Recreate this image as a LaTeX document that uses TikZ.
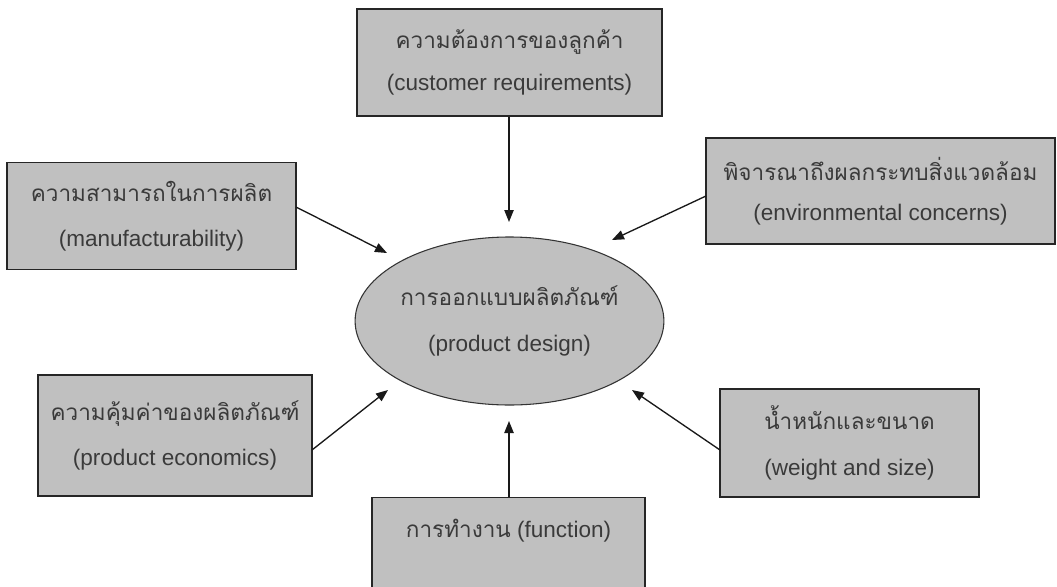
\documentclass[tikz,border=0pt]{standalone}
\usepackage{fontspec}
\setmainfont{Liberation Sans}
\newfontfamily\thai[Script=Thai]{Loma}
\usetikzlibrary{arrows.meta,shapes.geometric}
\definecolor{boxfill}{HTML}{C0C0C0}
\definecolor{txt}{HTML}{3A3A3A}
\tikzset{
  box/.style={draw=black!85, line width=1.1pt, fill=boxfill, text=txt, align=center, inner sep=0pt,
    font=\fontsize{16.9}{20}\selectfont},
  ell/.style={ellipse, draw=black!80, line width=0.8pt, fill=boxfill, text=txt, align=center, inner sep=0pt,
    font=\fontsize{16.9}{20}\selectfont},
  arr/.style={draw=black!90, line width=1pt, -{Triangle[length=9pt,width=7pt]}}
}
\begin{document}
\begin{tikzpicture}[x=0.75pt,y=-0.75pt]
\useasboundingbox (0,0) rectangle (1057,586);
\clip (0,0) rectangle (1057,586);
\fill[white] (0,0) rectangle (1057,586);
\node[ell, minimum width=228.75pt, minimum height=126pt] (pd) at (509.5,321)
  {{\thai การออกแบบผลิตภัณฑ์}\\[15pt](product design)};
\node[box, minimum width=228.75pt, minimum height=80.25pt] (cr) at (509.5,62.5)
  {{\thai ความต้องการของลูกค้า}\\[12pt](customer requirements)};
\node[box, minimum width=216.75pt, minimum height=80.25pt] (mf) at (151.5,216)
  {{\thai ความสามารถในการผลิต}\\[14pt](manufacturability)};
\node[box, minimum width=261.75pt, minimum height=79.5pt] (ec) at (880.5,191)
  {{\thai พิจารณาถึงผลกระทบสิ่งแวดล้อม}\\[10pt](environmental concerns)};
\node[box, minimum width=205.5pt, minimum height=90.75pt] (pe) at (175,435.5)
  {{\thai ความคุ้มค่าของผลิตภัณฑ์}\\[14pt](product economics)};
\node[box, minimum width=194.25pt, minimum height=81pt] (ws) at (849.5,443)
  {{\thai น้ำหนักและขนาด}\\[14pt](weight and size)};
\node[box, minimum width=204.75pt, minimum height=82.5pt, anchor=north, text depth=37pt] (fn) at (508.5,497)
  {{\thai การทำงาน} (function)};
\coordinate (tcr) at (509,222);
\coordinate (tmf) at (387,253);
\coordinate (tec) at (612,240);
\coordinate (tpe) at (388,390);
\coordinate (tws) at (632,390);
\coordinate (tfn) at (509,421);
\coordinate (smf) at (296,207);
\coordinate (sec) at (706,196);
\coordinate (spe) at (312,450);
\coordinate (sws) at (720,450);
\draw[arr] (cr.south -| tcr) -- (tcr);
\draw[arr] (smf) -- (tmf);
\draw[arr] (sec) -- (tec);
\draw[arr] (spe) -- (tpe);
\draw[arr] (sws) -- (tws);
\draw[arr] (fn.north -| tfn) -- (tfn);
\end{tikzpicture}
\end{document}
